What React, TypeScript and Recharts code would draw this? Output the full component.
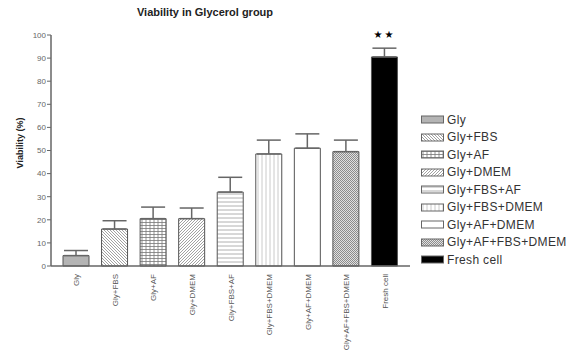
import React from 'react';
import { BarChart, Bar, XAxis, YAxis, ErrorBar, Cell, LabelList } from 'recharts';

const categories = ['Gly', 'Gly+FBS', 'Gly+AF', 'Gly+DMEM', 'Gly+FBS+AF', 'Gly+FBS+DMEM', 'Gly+AF+DMEM', 'Gly+AF+FBS+DMEM', 'Fresh cell'];
const viability = [4.5, 16, 20.5, 20.5, 32, 48.5, 51, 49.5, 90.5];
const sdUp = [2.2, 3.6, 5, 4.6, 6.4, 6, 6.2, 5, 3.8];
const stars = ['', '', '', '', '', '', '', '', '★★'];
const yTicks = [0, 10, 20, 30, 40, 50, 60, 70, 80, 90, 100];

const data = categories.map((c, i) => ({ name: c, v: viability[i], err: [0, sdUp[i]], star: stars[i] }));
const fills = categories.map((_, i) => `url(#pat${i})`);

const FONT = '"Liberation Sans", Arial, sans-serif';

const Patterns = () => (
  <svg width={0} height={0} style={{ position: 'absolute' }}>
    <defs>
      <pattern id="pat0" width="4" height="4" patternUnits="userSpaceOnUse">
        <rect width="4" height="4" fill="#b4b4b4" />
      </pattern>
      <pattern id="pat1" width="3" height="3" patternUnits="userSpaceOnUse">
        <rect width="3" height="3" fill="#fff" />
        <path d="M0,0 L3,3 M-1,2 L1,4 M2,-1 L4,1" stroke="#8a8a8a" strokeWidth="0.8" />
      </pattern>
      <pattern id="pat2" width="4" height="3" patternUnits="userSpaceOnUse">
        <rect width="4" height="3" fill="#fff" />
        <path d="M0,1.5 L4,1.5 M2,0 L2,3" stroke="#777" strokeWidth="0.8" />
      </pattern>
      <pattern id="pat3" width="3" height="3" patternUnits="userSpaceOnUse">
        <rect width="3" height="3" fill="#fff" />
        <path d="M0,3 L3,0 M-1,1 L1,-1 M2,4 L4,2" stroke="#8a8a8a" strokeWidth="0.8" />
      </pattern>
      <pattern id="pat4" width="4" height="4" patternUnits="userSpaceOnUse">
        <rect width="4" height="4" fill="#fff" />
        <path d="M0,2 L4,2" stroke="#9a9a9a" strokeWidth="0.8" />
      </pattern>
      <pattern id="pat5" width="4" height="4" patternUnits="userSpaceOnUse">
        <rect width="4" height="4" fill="#fff" />
        <path d="M2,0 L2,4" stroke="#bdbdbd" strokeWidth="0.8" />
      </pattern>
      <pattern id="pat6" width="4" height="4" patternUnits="userSpaceOnUse">
        <rect width="4" height="4" fill="#fff" />
      </pattern>
      <pattern id="pat7" width="2" height="2" patternUnits="userSpaceOnUse">
        <rect width="2" height="2" fill="#e0e0e0" />
        <rect width="1" height="1" fill="#8c8c8c" />
        <rect x="1" y="1" width="1" height="1" fill="#8c8c8c" />
      </pattern>
      <pattern id="pat8" width="4" height="4" patternUnits="userSpaceOnUse">
        <rect width="4" height="4" fill="#000" />
      </pattern>
    </defs>
  </svg>
);

const XTick = (props: any) => {
  const { x, y, payload } = props;
  const ty = y + 6;
  return (
    <text
      x={x}
      y={ty}
      transform={`rotate(-90 ${x} ${ty})`}
      textAnchor="end"
      dy={3}
      fontSize={8}
      fill="#555"
      fontFamily={FONT}
    >
      {payload.value}
    </text>
  );
};

const StarLabel = (props: any) => {
  const { x, y, width, value } = props;
  if (!value) return null;
  return (
    <text
      x={Number(x) + Number(width) / 2}
      y={Number(y) - 19}
      textAnchor="middle"
      fontSize={10}
      letterSpacing={2}
      fill="#000"
      fontFamily="DejaVu Sans"
    >
      {value}
    </text>
  );
};

export default function App() {
  return (
    <div style={{ position: 'relative', width: 569, height: 352, background: '#fff', fontFamily: FONT }}>
      <Patterns />
      <div
        style={{
          position: 'absolute',
          left: 122,
          top: -2,
          width: 150,
          textAlign: 'center',
          fontSize: 11,
          fontWeight: 'bold',
          color: '#222',
          whiteSpace: 'nowrap',
        }}
      >
        Viability in Glycerol group
      </div>
      <div
        style={{
          position: 'absolute',
          left: 12,
          top: 135,
          transform: 'translate(-50%, -50%) rotate(-90deg)',
          fontSize: 9,
          fontWeight: 'bold',
          color: '#222',
          whiteSpace: 'nowrap',
        }}
      >
        Viability (%)
      </div>
      <BarChart
        width={560}
        height={352}
        data={data}
        margin={{ top: 27, right: 158, bottom: 14, left: 0 }}
        barSize={26}
      >
        <XAxis
          dataKey="name"
          interval={0}
          tickLine={false}
          tickSize={0}
          height={80}
          padding={{ left: 6, right: 6 }}
          axisLine={{ stroke: '#666', strokeWidth: 1.5 }}
          tick={<XTick />}
        />
        <YAxis
          domain={[0, 100]}
          ticks={yTicks}
          width={43}
          tickSize={4}
          tickMargin={1}
          axisLine={{ stroke: '#666', strokeWidth: 1.5 }}
          tickLine={{ stroke: '#666' }}
          tick={{ fontSize: 8, fill: '#666', fontFamily: FONT }}
        />
        <Bar dataKey="v" isAnimationActive={false} stroke="#555" strokeWidth={1}>
          {data.map((_, i) => (
            <Cell key={i} fill={fills[i]} />
          ))}
          <ErrorBar dataKey="err" direction="y" width={12} stroke="#666" strokeWidth={1.5} />
          <LabelList dataKey="star" content={<StarLabel />} />
        </Bar>
      </BarChart>
      <div style={{ position: 'absolute', left: 413, top: 103 }}>
        {categories.map((c, i) => (
          <div key={c} style={{ display: 'flex', alignItems: 'center', height: 17.5 }}>
            <svg width={24} height={9} style={{ marginRight: 2 }}>
              <rect x={0.5} y={1} width={22} height={7} fill={fills[i]} stroke="#666" strokeWidth={1} />
            </svg>
            <span style={{ fontSize: 12, letterSpacing: 0.35, color: '#333', whiteSpace: 'nowrap' }}>{c}</span>
          </div>
        ))}
      </div>
    </div>
  );
}
